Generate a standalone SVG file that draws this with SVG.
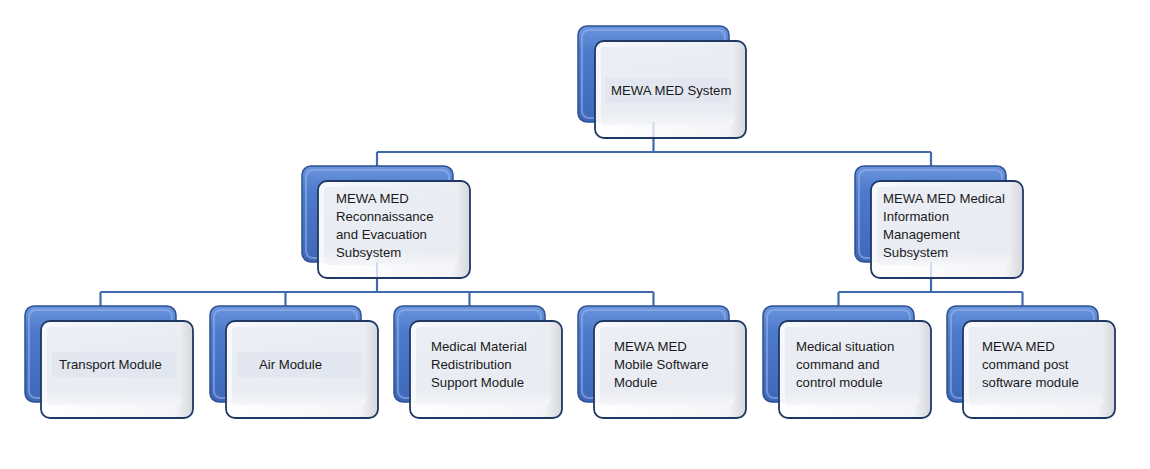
<svg xmlns="http://www.w3.org/2000/svg" width="1150" height="469" viewBox="0 0 1150 469">
<defs>
<linearGradient id="gBack" x1="0" y1="0" x2="0" y2="1">
<stop offset="0" stop-color="#6b95de"/>
<stop offset="0.25" stop-color="#4f7bcc"/>
<stop offset="1" stop-color="#3e67b8"/>
</linearGradient>
<linearGradient id="gFront" x1="0" y1="0" x2="0" y2="1">
<stop offset="0" stop-color="#eaedf4"/>
<stop offset="0.8" stop-color="#e8ebf2"/>
<stop offset="1" stop-color="#f4f5f8"/>
</linearGradient>
<linearGradient id="gRim" x1="0" y1="0" x2="1" y2="0">
<stop offset="0" stop-color="#ffffff"/>
<stop offset="0.88" stop-color="#f3f4f7"/>
<stop offset="1" stop-color="#d2d5db"/>
</linearGradient>
<style>
.back{fill:url(#gBack);stroke:#2e5090;stroke-width:1.5}
.hl{fill:none;stroke:#9bb8ea;stroke-opacity:0.55;stroke-width:2}
.front{fill:url(#gRim);fill-opacity:0.95;stroke:#1f3864;stroke-width:1.8}
.inner{fill:url(#gFront);fill-opacity:0.92}
.band{fill:#e1e5ee;opacity:0.85}
.conn{fill:none;stroke:#4169b0;stroke-width:2.2}
.ghost{fill:none;stroke:#4169b0;stroke-width:2;stroke-opacity:0.18}
text{font-family:"Liberation Sans",Arial,sans-serif;font-size:13.2px;fill:#1a1a1a}
</style>
</defs>
<g id="connectors">
<path class="conn" d="M653.5 120 V152 M377 152 H931 M377 152 V166 M931 152 V166"/>
<path class="conn" d="M377 260 V292 M100.5 292 H653.5 M100.5 292 V306 M285.5 292 V306 M469.5 292 V306 M653.5 292 V306"/>
<path class="conn" d="M931 260 V292 M838.5 292 H1022.5 M838.5 292 V306 M1022.5 292 V306"/>
</g>
<g id="node-system">
<rect class="back" x="578" y="26" width="151" height="96" rx="9"/>
<rect class="hl" x="582" y="30" width="143" height="88" rx="7"/>
<rect class="front" x="595" y="41" width="151" height="97" rx="9"/>
<rect class="inner" x="601" y="47" width="133" height="78" rx="3"/>
<rect class="band" x="605" y="78" width="124" height="25"/>
<text x="611" y="95">MEWA MED System</text>
</g>
<g id="node-recon">
<rect class="back" x="302" y="166" width="151" height="96" rx="9"/>
<rect class="hl" x="306" y="170" width="143" height="88" rx="7"/>
<rect class="front" x="318" y="181" width="152" height="97" rx="9"/>
<rect class="inner" x="324" y="187" width="134" height="78" rx="3"/>
<text x="336" y="203">MEWA MED</text>
<text x="336" y="221">Reconnaissance</text>
<text x="336" y="239">and Evacuation</text>
<text x="336" y="257">Subsystem</text>
</g>
<g id="node-info">
<rect class="back" x="855" y="166" width="151" height="96" rx="9"/>
<rect class="hl" x="859" y="170" width="143" height="88" rx="7"/>
<rect class="front" x="871" y="181" width="152" height="97" rx="9"/>
<rect class="inner" x="877" y="187" width="134" height="78" rx="3"/>
<text x="883" y="203">MEWA MED Medical</text>
<text x="883" y="221">Information</text>
<text x="883" y="239">Management</text>
<text x="883" y="257">Subsystem</text>
</g>
<g id="node-transport">
<rect class="back" x="25" y="306" width="151" height="96" rx="9"/>
<rect class="hl" x="29" y="310" width="143" height="88" rx="7"/>
<rect class="front" x="41" y="321" width="152" height="97" rx="9"/>
<rect class="inner" x="47" y="327" width="134" height="78" rx="3"/>
<rect class="band" x="52" y="352" width="124" height="25"/>
<text x="59" y="369">Transport Module</text>
</g>
<g id="node-air">
<rect class="back" x="210" y="306" width="151" height="96" rx="9"/>
<rect class="hl" x="214" y="310" width="143" height="88" rx="7"/>
<rect class="front" x="226" y="321" width="152" height="97" rx="9"/>
<rect class="inner" x="232" y="327" width="134" height="78" rx="3"/>
<rect class="band" x="237" y="352" width="124" height="25"/>
<text x="259" y="369">Air Module</text>
</g>
<g id="node-material">
<rect class="back" x="394" y="306" width="151" height="96" rx="9"/>
<rect class="hl" x="398" y="310" width="143" height="88" rx="7"/>
<rect class="front" x="410" y="321" width="152" height="97" rx="9"/>
<rect class="inner" x="416" y="327" width="134" height="78" rx="3"/>
<text x="431" y="351">Medical Material</text>
<text x="431" y="369">Redistribution</text>
<text x="431" y="387">Support Module</text>
</g>
<g id="node-mobile">
<rect class="back" x="578" y="306" width="151" height="96" rx="9"/>
<rect class="hl" x="582" y="310" width="143" height="88" rx="7"/>
<rect class="front" x="594" y="321" width="152" height="97" rx="9"/>
<rect class="inner" x="600" y="327" width="134" height="78" rx="3"/>
<text x="614" y="351">MEWA MED</text>
<text x="614" y="369">Mobile Software</text>
<text x="614" y="387">Module</text>
</g>
<g id="node-situation">
<rect class="back" x="763" y="306" width="151" height="96" rx="9"/>
<rect class="hl" x="767" y="310" width="143" height="88" rx="7"/>
<rect class="front" x="779" y="321" width="152" height="97" rx="9"/>
<rect class="inner" x="785" y="327" width="134" height="78" rx="3"/>
<text x="796" y="351">Medical situation</text>
<text x="796" y="369">command and</text>
<text x="796" y="387">control module</text>
</g>
<g id="node-cmdpost">
<rect class="back" x="947" y="306" width="151" height="96" rx="9"/>
<rect class="hl" x="951" y="310" width="143" height="88" rx="7"/>
<rect class="front" x="963" y="321" width="152" height="97" rx="9"/>
<rect class="inner" x="969" y="327" width="134" height="78" rx="3"/>
<text x="982" y="351">MEWA MED</text>
<text x="982" y="369">command post</text>
<text x="982" y="387">software module</text>
</g>
<g id="connector-shadows">
<path class="ghost" d="M653.5 122 V137 M377 262 V277 M931 262 V277"/>
</g>
</svg>
